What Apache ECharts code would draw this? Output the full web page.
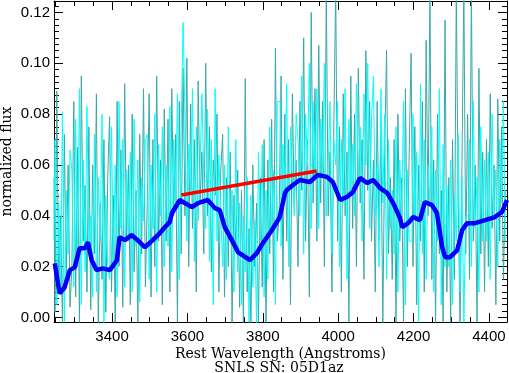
<!DOCTYPE html>
<html><head><meta charset="utf-8">
<script src="https://cdn.jsdelivr.net/npm/echarts@6/dist/echarts.min.js"></script>
<style>html,body{margin:0;padding:0;background:#fff}#c{width:509px;height:373px}</style>
</head><body><div id="c"></div>
<script>
const waveStart = 3246, waveStep = 5;
const fluxGray = [
.055,.002,.089,.010,.040,-.003,.072,.015,.060,.004,
.020,.085,.008,.067,-.002,.095,.030,.052,.010,.075,
.003,.060,.025,.088,-.004,.045,.015,.070,.002,.055,
.079,.010,.048,-.002,.085,.020,.066,.004,.092,.030,
.060,.005,.080,.018,.050,-.003,.072,.025,.090,.012,
.045,.088,.008,.070,.020,.095,.030,.062,.005,.082,
.030,.078,.010,.090,.040,.072,-.002,.085,.025,.098,
.040,.102,.020,.084,.035,.070,.010,.093,.045,.065,
.025,.100,.040,.075,.018,.062,.048,.080,.010,.058,
.072,.008,.055,.020,.065,-.003,.048,.028,.058,.004,
.050,-.003,.094,.010,.035,-.004,.060,.020,.045,-.002,
.055,.012,.070,-.003,.062,.025,.078,.010,.106,.030,
.040,.095,.015,.080,.030,.070,.005,.088,.045,.062,
.020,.085,.050,.110,.030,.070,.008,.120,.045,.090,
.030,.107,.045,.085,.020,.130,.040,.065,.010,.075,
.130,.030,.075,.010,.088,.040,.065,-.002,.095,.035,
.080,.020,.098,.045,.070,.015,.105,.050,.085,.030,
.062,.010,.085,.030,.075,-.003,.068,.105,.025,.055,
.015,.070,-.002,.080,.030,.055,-.003,.090,.020,.065,
.104,.020,.075,.005,.060,.030,.085,.010,.109,.040,
.130,.015,.062,-.003,.080,.025,.050,-.002,.117,.010,
.055,-.002,.070,.015,.130,.045,-.003,.060,.130,.025,
.080,.015,.130,.030,.060,-.002,.098,.025,.065,.010,
.070,.020,.088,.035,.060,.005,.086,.030,.075,.015,
.050];
const fluxCyan = [
.030,.070,.005,.045,.012,.081,-.002,.050,.025,.066,
.058,.012,.078,.020,.090,.005,.062,.018,.083,.028,
.040,.008,.072,.010,.055,.030,.080,-.003,.048,.020,
.015,.075,.022,.060,.008,.085,.035,.070,.012,.058,
.030,.065,.010,.078,.028,.062,.006,.055,.038,.070,
.072,.015,.060,.035,.080,.010,.068,.040,.075,.020,
.060,.028,.083,.018,.070,.045,.088,.015,.075,.116,
.080,.030,.068,.050,.090,.022,.075,.038,.060,.088,
.055,.035,.082,.022,.070,.005,.090,.030,.064,.040,
.020,.060,.015,.075,.030,.050,.010,.070,.018,.045,
.005,.040,.018,.055,-.002,.048,.012,.038,-.003,.065,
.030,.068,.008,.050,.015,.075,.035,.058,.005,.085,
.085,.028,.068,.048,.092,.020,.075,.055,.040,.080,
.070,.040,.095,.025,.080,.060,.100,.035,.085,.055,
.090,.035,.078,.055,.100,.040,.060,.085,.025,.070,
.060,.085,.020,.070,.045,.090,.015,.078,.050,.068,
.040,.092,.055,.075,.030,.088,.060,.100,.035,.078,
.095,.040,.060,.020,.090,.045,.080,.015,.070,.035,
.050,.025,.075,.010,.062,.040,.085,.005,.058,.030,
.030,.080,.040,.065,-.002,.092,.025,.070,.015,.060,
.045,.075,.010,.058,.030,.090,.005,.068,.020,.052,
.020,.062,.005,.048,.030,.072,.010,.055,-.002,.040,
.040,.070,.020,.085,.035,.055,.010,.075,.030,.062,
.030,.065,.015,.080,.040,.058,.020,.070,.045,.085,
.030];
const smoothWave = [3248,3261,3274,3288,3301,3314,3328,3336,3346,3359,3375,3394,3413,3420,3434,3452,3468,3487,3508,3527,3540,3553,3559,3580,3593,3612,3628,3654,3673,3686,3699,3718,3734,3766,3784,3800,3824,3845,3859,3864,3880,3898,3925,3946,3970,3986,4005,4023,4039,4058,4077,4093,4111,4130,4146,4164,4170,4186,4199,4217,4230,4249,4262,4276,4284,4297,4316,4329,4342,4363,4390,4416,4435,4448];
const smoothFlux = [0.0213,0.0095,0.0118,0.0186,0.0197,0.0272,0.0272,0.0296,0.0225,0.0186,0.0193,0.0186,0.0225,0.0316,0.0304,0.0324,0.0304,0.0276,0.0304,0.0332,0.0355,0.0375,0.0411,0.0462,0.0450,0.0434,0.0450,0.0462,0.0430,0.0422,0.0355,0.0304,0.0257,0.0225,0.0253,0.0292,0.0343,0.0395,0.0490,0.0501,0.0521,0.0541,0.0533,0.0561,0.0553,0.0533,0.0462,0.0474,0.0493,0.0549,0.0529,0.0541,0.0509,0.0490,0.0450,0.0391,0.0355,0.0371,0.0395,0.0383,0.0454,0.0442,0.0411,0.0276,0.0237,0.0237,0.0265,0.0343,0.0371,0.0371,0.0383,0.0395,0.0415,0.0462];
const redWave = [3584, 3943];
const redFlux = [0.0482, 0.0576];
const xMajorTicks = [3400, 3600, 3800, 4000, 4200, 4400];
const yMajorTicks = [0.00, 0.02, 0.04, 0.06, 0.08, 0.10, 0.12];
const xLabel = 'Rest Wavelength (Angstroms)';
const yLabel = 'normalized flux';
const subTitle = 'SNLS SN: 05D1az';

const xMin = 3246, xMax = 4448, yMin = -0.0018, yMax = 0.1245;
const xMinor = [], yMinor = [];
for (let v = 3250; v <= 4450; v += 50) xMinor.push(v);
for (let k = 0; k <= 50; k++) yMinor.push(+(k * 0.0025).toFixed(4));

const toPairs = (arr) => arr.map((v, i) => [waveStart + i * waveStep, v]);
const zip = (a, b) => a.map((v, i) => [v, b[i]]);

const sans = 'Liberation Sans';
const serif = 'DejaVu Serif';
const black = '#000';

function xAx(pos, major) {
  return {
    type: 'value', position: pos, min: xMin, max: xMax,
    axisLine: { show: major, onZero: false, lineStyle: { color: black, width: 1 } },
    axisTick: { show: true, inside: true, length: major ? 9 : 5, customValues: major ? xMajorTicks : xMinor, lineStyle: { color: black } },
    axisLabel: { show: major && pos === 'bottom', customValues: xMajorTicks, color: black, fontFamily: sans, fontSize: 15, margin: 7, formatter: v => String(v) },
    splitLine: { show: false },
    name: (major && pos === 'bottom') ? xLabel : '',
    nameLocation: 'middle', nameGap: 25, nameMoveOverlap: false,
    nameTextStyle: { fontFamily: serif, fontSize: 14, color: black }
  };
}
function yAx(pos, major) {
  return {
    type: 'value', position: pos, min: yMin, max: yMax,
    axisLine: { show: major, onZero: false, lineStyle: { color: black, width: 1 } },
    axisTick: { show: true, inside: true, length: major ? 9 : 5, customValues: major ? yMajorTicks : yMinor, lineStyle: { color: black } },
    axisLabel: { show: major && pos === 'left', customValues: yMajorTicks, color: black, fontFamily: sans, fontSize: 15, margin: 4, formatter: v => v.toFixed(2) },
    splitLine: { show: false },
    name: (major && pos === 'left') ? yLabel : '',
    nameLocation: 'middle', nameGap: 40, nameRotate: 90, nameMoveOverlap: false,
    nameTextStyle: { fontFamily: serif, fontSize: 14, color: black }
  };
}

const chart = echarts.init(document.getElementById('c'), null, { renderer: 'canvas' });
chart.setOption({
  animation: false,
  backgroundColor: '#fff',
  grid: { left: 54, right: 2, top: 1, bottom: 51, containLabel: false, outerBoundsMode: 'none' },
  xAxis: [xAx('bottom', true), xAx('bottom', false), xAx('top', true), xAx('top', false)],
  yAxis: [yAx('left', true), yAx('left', false), yAx('right', true), yAx('right', false)],
  graphic: [{ type: 'text', x: 279, y: 368, style: { text: subTitle, align: 'center', verticalAlign: 'middle', font: '14px "DejaVu Serif"', fill: black } }],
  series: [
    { type: 'line', data: toPairs(fluxGray), step: 'middle', symbol: 'none', lineStyle: { color: '#3aa8a8', width: 1 }, clip: true, z: 2 },
    { type: 'line', data: toPairs(fluxCyan), step: 'middle', symbol: 'none', lineStyle: { color: '#00ffff', width: 1 }, clip: true, z: 3 },
    { type: 'line', data: zip(smoothWave, smoothFlux), symbol: 'none', lineStyle: { color: '#0000ff', width: 4.5 }, clip: true, z: 4 },
    { type: 'line', data: zip(redWave, redFlux), symbol: 'none', lineStyle: { color: '#ff0000', width: 3.5 }, clip: true, z: 5 }
  ]
});
</script></body></html>
